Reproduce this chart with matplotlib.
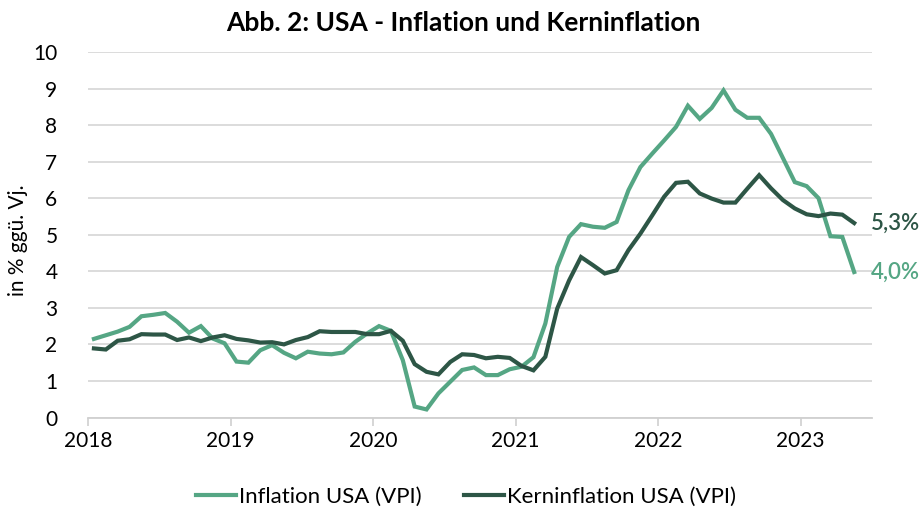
import matplotlib
matplotlib.use("Agg")
import matplotlib.pyplot as plt
import numpy as np

plt.rcParams['font.family'] = ['Lato', 'DejaVu Sans']

# monatliche Werte Jan 2018 - Mai 2023, in % ggü. Vorjahr
inflation = [2.15, 2.25, 2.35, 2.48, 2.77, 2.81, 2.86, 2.62, 2.32, 2.50, 2.16, 2.03,
             1.53, 1.50, 1.84, 1.98, 1.77, 1.62, 1.80, 1.75, 1.73, 1.78, 2.07, 2.30,
             2.50, 2.37, 1.57, 0.30, 0.22, 0.66, 0.98, 1.30, 1.37, 1.16, 1.16, 1.32,
             1.39, 1.65, 2.57, 4.12, 4.94, 5.29, 5.22, 5.19, 5.35, 6.22, 6.85, 7.22,
             7.58, 7.95, 8.53, 8.17, 8.47, 8.95, 8.42, 8.20, 8.20, 7.76, 7.10, 6.44,
             6.33, 6.00, 4.96, 4.94, 3.98]
kerninflation = [1.89, 1.86, 2.10, 2.14, 2.28, 2.27, 2.27, 2.12, 2.19, 2.09, 2.19, 2.25,
                 2.15, 2.11, 2.05, 2.06, 2.00, 2.12, 2.20, 2.36, 2.34, 2.34, 2.34, 2.28,
                 2.28, 2.37, 2.10, 1.46, 1.25, 1.18, 1.52, 1.73, 1.71, 1.62, 1.66, 1.63,
                 1.41, 1.29, 1.66, 2.98, 3.75, 4.39, 4.17, 3.94, 4.03, 4.58, 5.03, 5.53,
                 6.04, 6.42, 6.45, 6.13, 5.99, 5.88, 5.88, 6.26, 6.63, 6.27, 5.95, 5.72,
                 5.56, 5.51, 5.58, 5.55, 5.32]
years = ['2018', '2019', '2020', '2021', '2022', '2023']
label_infl = '4,0%'
label_kern = '5,3%'

col_infl = '#55a684'
col_kern = '#2d5646'

fig = plt.figure(figsize=(9.23, 5.14), dpi=100)
ax = fig.add_axes([88 / 923, 1 - 417.5 / 514, (872 - 88) / 923, (417.5 - 52) / 514])

x = np.arange(len(inflation)) + 0.5
ax.plot(x, inflation, color=col_infl, lw=3, solid_joinstyle='miter', label='Inflation USA (VPI)')
ax.plot(x, kerninflation, color=col_kern, lw=3, solid_joinstyle='miter', label='Kerninflation USA (VPI)')

ax.text(x[-1] + 1.4, kerninflation[-1], label_kern, color=col_kern, fontsize=16,
        fontweight='semibold', va='center', ha='left', clip_on=False)
ax.text(x[-1] + 1.4, inflation[-1], label_infl, color=col_infl, fontsize=16,
        fontweight='semibold', va='center', ha='left', clip_on=False)

ax.set_xlim(0, 66)
ax.set_ylim(0, 10)
ax.set_yticks(range(0, 11))
ax.set_xticks([12 * i for i in range(len(years))])
ax.set_xticklabels(years)
ax.grid(axis='y', color='#d9d9d9', lw=1.3)
ax.set_axisbelow(True)
for s in ['left', 'right', 'top']:
    ax.spines[s].set_visible(False)
ax.spines['bottom'].set_color('#d0d0d0')
ax.spines['bottom'].set_linewidth(1.3)
ax.tick_params(axis='y', length=0, pad=22, labelsize=15)
ax.tick_params(axis='x', length=6, width=1.2, color='#d0d0d0', pad=4, labelsize=15)

fig.text(0.502, 1 - 23 / 514, 'Abb. 2: USA - Inflation und Kerninflation', ha='center', va='center',
         fontsize=19, fontweight='bold')
fig.text(18 / 923, 1 - 240 / 514, 'in % ggü. Vj.', rotation=90, ha='center', va='center', fontsize=15)

fig.legend(loc='center', bbox_to_anchor=(0.505, 1 - 497 / 514), ncol=2, frameon=False,
           fontsize=16, handlelength=1.8, handletextpad=0.15, columnspacing=1.9)

fig.savefig('out.png', dpi=100)
